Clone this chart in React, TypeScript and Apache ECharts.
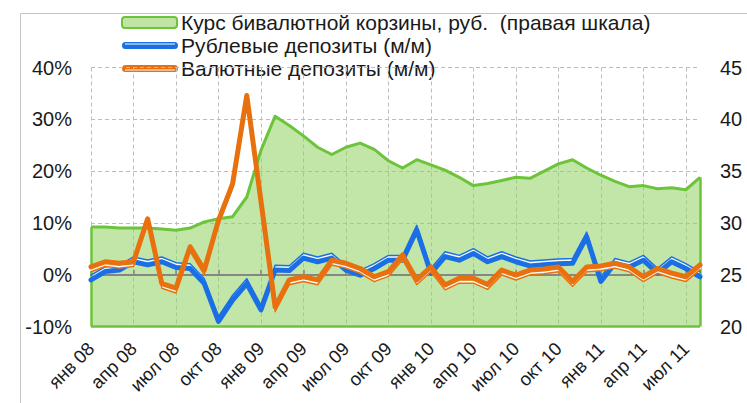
import React, { useEffect, useRef } from "react";
import * as echarts from "echarts";

const categories = [
  "янв 08", "фев 08", "мар 08", "апр 08", "май 08", "июн 08", "июл 08", "авг 08", "сен 08", "окт 08", "ноя 08", "дек 08",
  "янв 09", "фев 09", "мар 09", "апр 09", "май 09", "июн 09", "июл 09", "авг 09", "сен 09", "окт 09", "ноя 09", "дек 09",
  "янв 10", "фев 10", "мар 10", "апр 10", "май 10", "июн 10", "июл 10", "авг 10", "сен 10", "окт 10", "ноя 10", "дек 10",
  "янв 11", "фев 11", "мар 11", "апр 11", "май 11", "июн 11", "июл 11", "авг 11",
];

// Курс бивалютной корзины, руб. (правая шкала)
const basketRub = [
  29.6, 29.6, 29.5, 29.5, 29.5, 29.4, 29.3, 29.5, 30.1, 30.4, 30.6, 32.5,
  37.0, 40.3, 39.4, 38.4, 37.3, 36.6, 37.3, 37.7, 37.1, 36.0, 35.3, 36.1,
  35.6, 35.1, 34.4, 33.6, 33.8, 34.1, 34.4, 34.3, 35.0, 35.7, 36.1, 35.3,
  34.6, 34.0, 33.5, 33.6, 33.3, 33.4, 33.2, 34.4,
];

// Рублевые депозиты (м/м), %
const rubDeposits = [
  -1.0, 0.6, 0.9, 2.5, 1.9, 2.5, 1.4, 1.2, -1.7, -9.0, -4.9, -1.7,
  -6.8, 0.9, 0.8, 3.2, 2.5, 3.2, 0.9, -0.1, 1.2, 2.8, 2.8, 8.6,
  0.3, 3.5, 2.8, 4.1, 2.5, 3.5, 2.5, 1.7, 1.9, 2.1, 2.2, 7.3,
  -1.3, 2.2, 1.5, 2.8, 0.3, 2.5, 1.2, -0.4,
];

// Валютные депозиты (м/м), %
const fxDeposits = [
  1.5, 2.5, 2.2, 2.5, 10.8, -1.7, -2.6, 5.4, 0.9, 10.5, 17.6, 34.6,
  14.2, -6.2, -1.0, -0.4, -1.0, 2.8, 2.2, 1.2, -0.4, 0.6, 3.8, -1.0,
  1.5, -2.0, -0.7, -0.7, -1.9, 0.9, -0.1, 0.9, 1.1, 1.5, -1.3, 1.5,
  1.7, 2.2, 1.5, -0.4, 1.2, 0.3, -0.4, 1.9,
];

const legendLabels = [
  "Курс бивалютной корзины, руб.  (правая шкала)",
  "Рублевые депозиты (м/м)",
  "Валютные депозиты (м/м)",
];

const FONT = '"Liberation Sans", Arial, sans-serif';
const TEXT = "#1a1a1a";
const GREEN = "#6CC43A";
const BLUE = "#1B6FE4";
const ORANGE = "#E8700E";
const GRID = "#BDBDBD";
// pixel offsets of the gap and the thin stripe of the "thick-thin" lines, in % units (5.18 px per 1%)
const GAP_OFF = 0.66;
const THIN_OFF = 0.93;

export default function App() {
  const ref = useRef<HTMLDivElement>(null);

  useEffect(() => {
    document.body.style.margin = "0";
    if (!ref.current) return;
    const chart = echarts.init(ref.current, null, { renderer: "svg" });

    const doubleLine = (name: string, data: number[], color: string, gapAxis: number, thinAxis: number, z: number) => [
      {
        name: name + "_gap",
        type: "line",
        data,
        yAxisIndex: gapAxis,
        symbol: "none",
        silent: true,
        z,
        lineStyle: { color: "#ffffff", width: 2.6, opacity: 0.9, cap: "round", join: "round" },
      },
      {
        name,
        type: "line",
        data,
        yAxisIndex: 0,
        symbol: "none",
        silent: true,
        z: z + 1,
        lineStyle: { color, width: 5, cap: "round", join: "round" },
      },
      {
        name: name + "_thin",
        type: "line",
        data,
        yAxisIndex: thinAxis,
        symbol: "none",
        silent: true,
        z: z + 2,
        lineStyle: { color, width: 1.5, cap: "round", join: "round" },
      },
    ];

    const last = categories.length - 1;

    chart.setOption({
      animation: false,
      textStyle: { fontFamily: FONT },
      grid: { left: 91, right: 47, top: 67.5, bottom: 76.5, containLabel: false },
      xAxis: [
        {
          type: "category",
          data: categories,
          boundaryGap: false,
          axisLine: { show: false },
          axisTick: { show: false },
          axisLabel: {
            interval: 2,
            rotate: 45,
            fontSize: 18.5,
            color: TEXT,
            fontFamily: FONT,
            margin: 19,
          },
          splitLine: { show: true, interval: 2, lineStyle: { color: GRID, type: [4, 3], width: 1 } },
        },
        {
          type: "category",
          data: categories,
          boundaryGap: false,
          position: "bottom",
          z: 3,
          axisLine: { show: true, onZero: true, onZeroAxisIndex: 0, lineStyle: { color: "#868686", width: 2.2 } },
          axisTick: { show: true, inside: true, interval: 2, length: 5, lineStyle: { color: "#868686", width: 1.5 } },
          axisLabel: { show: false },
          splitLine: { show: false },
        },
      ],
      yAxis: [
        {
          type: "value",
          min: -10,
          max: 40,
          interval: 10,
          position: "left",
          axisLine: { show: false },
          axisTick: { show: false },
          axisLabel: { formatter: "{value}%", fontSize: 20, color: TEXT, fontFamily: FONT, margin: 19 },
          splitLine: { show: true, lineStyle: { color: GRID, type: [4, 3], width: 1 } },
        },
        {
          type: "value",
          min: 20,
          max: 45,
          interval: 5,
          position: "right",
          axisLine: { show: false },
          axisTick: { show: false },
          axisLabel: { fontSize: 20, color: TEXT, fontFamily: FONT, margin: 20 },
          splitLine: { show: false },
        },
        // hidden, shifted copies of the left scale (thin stripe above for blue, below for orange)
        { type: "value", min: -10 - GAP_OFF, max: 40 - GAP_OFF, show: false },
        { type: "value", min: -10 - THIN_OFF, max: 40 - THIN_OFF, show: false },
        { type: "value", min: -10 + GAP_OFF, max: 40 + GAP_OFF, show: false },
        { type: "value", min: -10 + THIN_OFF, max: 40 + THIN_OFF, show: false },
      ],
      series: [
        {
          name: legendLabels[0],
          type: "line",
          data: basketRub,
          yAxisIndex: 1,
          symbol: "none",
          silent: true,
          z: 2,
          lineStyle: { color: GREEN, width: 3, join: "round" },
          areaStyle: { color: "#8ED25E", opacity: 0.55, origin: "start" },
          markLine: {
            silent: true,
            symbol: "none",
            label: { show: false },
            lineStyle: { color: GREEN, width: 2.5, type: "solid" },
            data: [
              [{ coord: [categories[0], 20] }, { coord: [categories[last], 20] }],
              [{ coord: [categories[0], 20] }, { coord: [categories[0], basketRub[0]] }],
              [{ coord: [categories[last], 20] }, { coord: [categories[last], basketRub[last]] }],
            ],
          },
        },
        ...doubleLine(legendLabels[1], rubDeposits, BLUE, 2, 3, 4),
        ...doubleLine(legendLabels[2], fxDeposits, ORANGE, 4, 5, 7),
      ],
      graphic: [
        { type: "line", shape: { x1: 20.5, y1: 13.5, x2: 747, y2: 13.5 }, style: { stroke: "#C4C4C4", lineWidth: 1 } },
        { type: "line", shape: { x1: 20.5, y1: 13.5, x2: 20.5, y2: 403 }, style: { stroke: "#C4C4C4", lineWidth: 1 } },
        {
          type: "rect",
          shape: { x: 122, y: 17, width: 55, height: 11, r: 3 },
          style: { fill: "#BFE4A3", stroke: GREEN, lineWidth: 2 },
        },
        {
          type: "text",
          x: 181,
          y: 22.5,
          style: { text: legendLabels[0], font: `21px ${FONT}`, fill: TEXT, verticalAlign: "middle" },
        },
        { type: "rect", shape: { x: 122, y: 42, width: 56, height: 7, r: 3.5 }, style: { fill: BLUE } },
        { type: "line", shape: { x1: 125, y1: 44, x2: 175, y2: 44 }, style: { stroke: "#ffffff", lineWidth: 1 } },
        {
          type: "text",
          x: 181,
          y: 45.5,
          style: { text: legendLabels[1], font: `21px ${FONT}`, fill: TEXT, verticalAlign: "middle" },
        },
        { type: "rect", shape: { x: 122, y: 65, width: 56, height: 7, r: 3.5 }, style: { fill: ORANGE } },
        { type: "line", shape: { x1: 125, y1: 70, x2: 175, y2: 70 }, style: { stroke: "#ffffff", lineWidth: 1 } },
        {
          type: "text",
          x: 181,
          y: 68.5,
          style: { text: legendLabels[2], font: `21px ${FONT}`, fill: TEXT, verticalAlign: "middle" },
        },
      ],
    });

    return () => chart.dispose();
  }, []);

  return <div ref={ref} style={{ width: 747, height: 403 }} />;
}
